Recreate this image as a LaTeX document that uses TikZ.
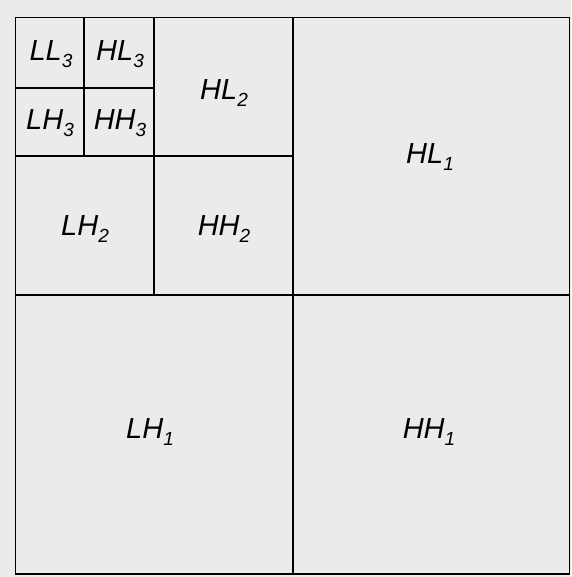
\documentclass[tikz,border=0pt]{standalone}
\usepackage{fontspec}
\setmainfont{Liberation Sans}
\definecolor{paper}{HTML}{EBEBEB}
\newcommand{\subband}[2]{\textit{#1}\raisebox{-7pt}{\fontsize{19}{20}\selectfont\textit{#2}}}
\tikzset{
    gridline/.style={line width=1.8pt, black},
    band/.style={font=\fontsize{29}{32}\selectfont, inner sep=0pt}
}
\begin{document}
\begin{tikzpicture}[x=1pt, y=-1pt]
    % Page
    \fill[paper] (0,0) rectangle (571,577);
    \useasboundingbox (0,0) rectangle (571,577);

    % The decomposition grid
    \draw[gridline] (15.5,17.5) rectangle (569.5,574);
    \draw[gridline] (293,17.5) -- (293,574);
    \draw[gridline] (15.5,295) -- (569.5,295);
    \draw[gridline] (154,17.5) -- (154,295);
    \draw[gridline] (15.5,156) -- (293,156);
    \draw[gridline] (84,17.5) -- (84,156);
    \draw[gridline] (15.5,88) -- (154,88);

    % Level 3
    \node[band] (ll3) at (51,54) {\subband{LL}{3}};
    \node[band] (hl3) at (120,54) {\subband{HL}{3}};
    \node[band] (lh3) at (50,123) {\subband{LH}{3}};
    \node[band] (hh3) at (120,123) {\subband{HH}{3}};

    % Level 2
    \node[band] (hl2) at (224,93) {\subband{HL}{2}};
    \node[band] (lh2) at (85,229) {\subband{LH}{2}};
    \node[band] (hh2) at (224,229) {\subband{HH}{2}};

    % Level 1
    \node[band] (hl1) at (430,157) {\subband{HL}{1}};
    \node[band] (lh1) at (150,432) {\subband{LH}{1}};
    \node[band] (hh1) at (429,432) {\subband{HH}{1}};
\end{tikzpicture}
\end{document}
